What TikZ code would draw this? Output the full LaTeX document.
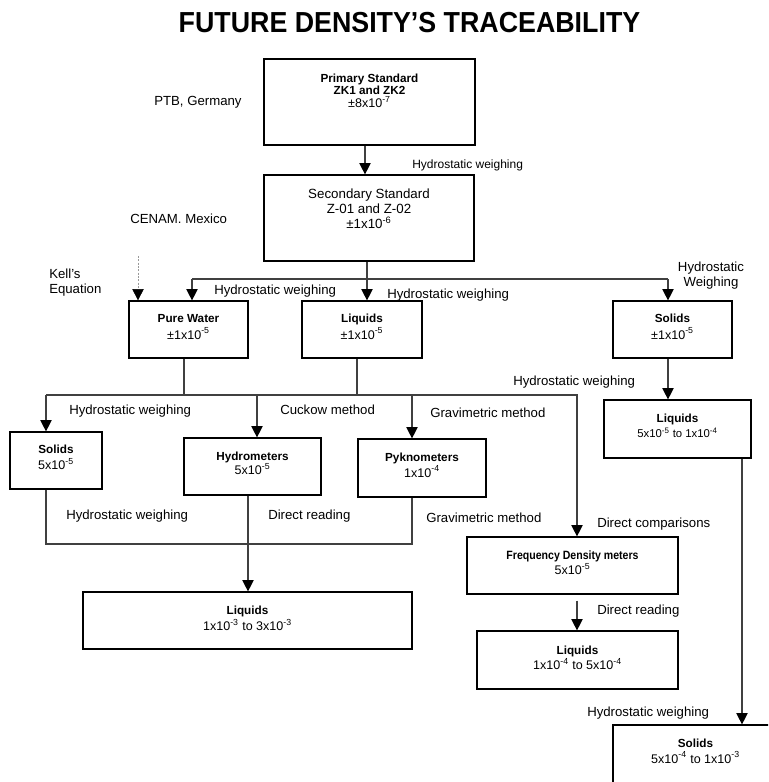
\documentclass[tikz,border=0pt]{standalone}
\usepackage{fontspec}
\setmainfont{Liberation Sans}
\usepackage{graphicx}
\usetikzlibrary{arrows.meta,fit}
\newcommand\fLab{\fontsize{9.9}{12}\selectfont}
\newcommand\fTop{\fontsize{9}{11}\selectfont}
\newcommand\fName{\fontsize{8.8}{10.5}\selectfont\bfseries}
\newcommand\fVal{\fontsize{9.4}{11}\selectfont}
\newcommand\fSmall{\fontsize{8.5}{10}\selectfont}
\newcommand\fSec{\fontsize{10}{12}\selectfont}
\newcommand\sps[1]{\textsuperscript{#1}}
\begin{document}
\begin{tikzpicture}[x=0.75pt,y=-0.75pt,
  box/.style={draw=black, line width=0.9pt, inner sep=0pt},
  con/.style={draw=black!75, line width=0.9pt},
  arr/.style={con, -{Triangle[width=8.5pt,length=8.5pt,color=black]}},
  kellline/.style={draw=black!40, line width=0.5pt, dash pattern=on 1.5pt off 1pt,
     -{Triangle[width=8.5pt,length=8.5pt,color=black]}},
  lab/.style={inner sep=0pt, anchor=base west, font=\fLab},
  toplab/.style={inner sep=0pt, anchor=base west, font=\fTop},
  clab/.style={inner sep=0pt, anchor=base, font=\fLab},
  nm/.style={inner sep=0pt, anchor=base, font=\fName},
  val/.style={inner sep=0pt, anchor=base, font=\fVal},
  sec/.style={inner sep=0pt, anchor=base, font=\fSec}]
\useasboundingbox (0,0) rectangle (768,782);
\fill[white] (0,0) rectangle (768,782);
\clip (0,0) rectangle (768,782);

% title
\node[inner sep=0pt, anchor=base] (title) at (409.5,32)
  {\scalebox{1}[1.08]{\fontsize{20.1}{24}\selectfont\bfseries FUTURE DENSITY’S TRACEABILITY}};

% boxes
\node[box, fit={(264,59) (475,145)}] (prim) {};
\node[box, fit={(264,175) (474,261)}] (sec) {};
\node[box, fit={(129,301) (248,358)}] (pw) {};
\node[box, fit={(302,301) (422,358)}] (liq1) {};
\node[box, fit={(613,301) (732,358)}] (sol1) {};
\node[box, fit={(604,400) (751,458)}] (liq2) {};
\node[box, fit={(10,432) (102,489)}] (solL) {};
\node[box, fit={(184,438) (321,495)}] (hyd) {};
\node[box, fit={(358,439) (486,497)}] (pyk) {};
\node[box, fit={(83,592) (412,649)}] (liq3) {};
\node[box, fit={(467,537) (678,594)}] (freq) {};
\node[box, fit={(477,631) (678,689)}] (liq4) {};
\node[box, fit={(613,725) (778,800)}] (sol2) {};

% box texts
\node[nm] (primA) at (369.5,82.5) {Primary Standard};
\node[nm] (primB) at (369.5,94) {ZK1 and ZK2};
\node[val] (primC) at (369.5,107.5) {±8x10\sps{-7}};
\node[sec] (secA) at (369,198) {Secondary Standard};
\node[sec] (secB) at (369,213.5) {Z-01 and Z-02};
\node[sec] (secC) at (369,228.5) {±1x10\sps{-6}};
\node[nm] (pwA) at (188.5,322) {Pure Water};
\node[val] (pwB) at (188.5,339) {±1x10\sps{-5}};
\node[nm] (liq1A) at (362,322) {Liquids};
\node[val] (liq1B) at (362,339) {±1x10\sps{-5}};
\node[nm] (sol1A) at (672.5,322) {Solids};
\node[val] (sol1B) at (672.5,339) {±1x10\sps{-5}};
\node[nm] (liq2A) at (677.5,422.5) {Liquids};
\node[inner sep=0pt, anchor=base, font=\fSmall] (liq2B) at (677.5,437.5) {5x10\sps{-5} to 1x10\sps{-4}};
\node[nm] (solLA) at (56,453.5) {Solids};
\node[val] (solLB) at (56,469.5) {5x10\sps{-5}};
\node[nm] (hydA) at (252.5,460) {Hydrometers};
\node[val] (hydB) at (252.5,474.5) {5x10\sps{-5}};
\node[nm] (pykA) at (422,461.5) {Pyknometers};
\node[val] (pykB) at (422,477) {1x10\sps{-4}};
\node[inner sep=0pt, anchor=base] (freqA) at (572.5,559)
  {\scalebox{0.88}[1]{\fontsize{9}{11}\selectfont\bfseries Frequency Density meters}};
\node[val] (freqB) at (572.5,574.5) {5x10\sps{-5}};
\node[nm] (liq3A) at (247.5,614) {Liquids};
\node[val] (liq3B) at (247.5,630.5) {1x10\sps{-3} to 3x10\sps{-3}};
\node[nm] (liq4A) at (577.5,654) {Liquids};
\node[val] (liq4B) at (577.5,669.5) {1x10\sps{-4} to 5x10\sps{-4}};
\node[nm] (sol2A) at (695.5,747.5) {Solids};
\node[val] (sol2B) at (695.5,763) {5x10\sps{-4} to 1x10\sps{-3}};

% labels
\node[lab] (ptb) at (154,105) {PTB, Germany};
\node[toplab] (hw1) at (412,168) {Hydrostatic weighing};
\node[lab] (cenam) at (130,223) {CENAM. Mexico};
\node[lab] (kellA) at (49,278) {Kell's};
\node[lab] (kellB) at (49,293) {Equation};
\node[lab] (hw2) at (214,294) {Hydrostatic weighing};
\node[lab] (hw3) at (387,298) {Hydrostatic weighing};
\node[clab] (hwA) at (711,271) {Hydrostatic};
\node[clab] (hwB) at (711,286) {Weighing};
\node[lab] (hw4) at (513,385.5) {Hydrostatic weighing};
\node[lab] (hw5) at (69,414.5) {Hydrostatic weighing};
\node[lab] (cuckow) at (280,414.5) {Cuckow method};
\node[lab] (grav1) at (430,417) {Gravimetric method};
\node[lab] (hw6) at (66,519) {Hydrostatic weighing};
\node[lab] (dr1) at (268,519) {Direct reading};
\node[lab] (grav2) at (426,522) {Gravimetric method};
\node[lab] (dcomp) at (597,527) {Direct comparisons};
\node[lab] (dr2) at (597,614) {Direct reading};
\node[lab] (hw7) at (587,716) {Hydrostatic weighing};

% helper coordinates
\coordinate (cA) at (365,0);
\coordinate (cB) at (367,0);
\coordinate (cP) at (192,0);
\coordinate (cS) at (668,0);
\coordinate (kellTop) at (138,256);
\coordinate (c184) at (184,0);
\coordinate (c357) at (357,0);
\coordinate (c46) at (46,0);
\coordinate (c577) at (577,0);
\coordinate (c257) at (257,0);
\coordinate (c412) at (412,0);
\coordinate (c742) at (742,0);
\coordinate (c248) at (248,0);
\coordinate (busA) at (0,279);
\coordinate (busB) at (0,395);
\coordinate (busC) at (0,544);

% connectors
\draw[arr] (prim.south -| cA) -- (sec.north -| cA);
\draw[con] (sec.south -| cB) -- (cB |- busA);
\draw[con] (cP |- busA) -- (cS |- busA);
\draw[arr] (cP |- busA) -- (cP |- pw.north);
\draw[arr] (cB |- busA) -- (cB |- liq1.north);
\draw[arr] (cS |- busA) -- (cS |- sol1.north);
\draw[kellline] (kellTop) -- (kellTop |- pw.north);

\draw[con] (pw.south -| c184) -- (c184 |- busB);
\draw[con] (liq1.south -| c357) -- (c357 |- busB);
\draw[arr] (c46 |- busB) -- (c577 |- busB) -- (c577 |- freq.north);
\draw[arr] (c46 |- busB) -- (c46 |- solL.north);
\draw[arr] (c257 |- busB) -- (c257 |- hyd.north);
\draw[arr] (c412 |- busB) -- (c412 |- pyk.north);

\draw[arr] (sol1.south -| cS) -- (cS |- liq2.north);
\draw[arr] (liq2.south -| c742) -- (c742 |- sol2.north);

\draw[con] (solL.south -| c46) -- (c46 |- busC) -- (c412 |- busC) -- (pyk.south -| c412);
\draw[arr] (hyd.south -| c248) -- (c248 |- liq3.north);
\draw[arr, shorten <=4.5pt] (freq.south -| c577) -- (c577 |- liq4.north);
\end{tikzpicture}
\end{document}
